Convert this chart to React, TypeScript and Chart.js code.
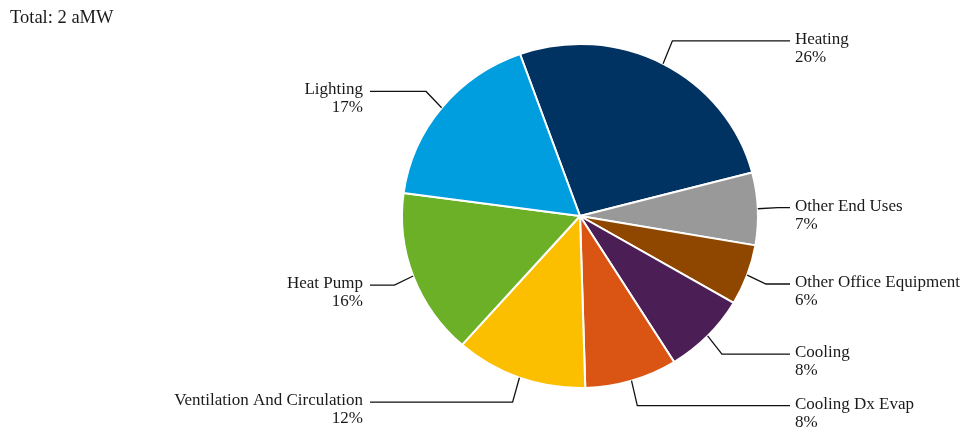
import { useEffect, useRef } from "react";
import { Chart, registerables } from "chart.js";

Chart.register(...registerables);

const categories = [
  "Heating",
  "Other End Uses",
  "Other Office Equipment",
  "Cooling",
  "Cooling Dx Evap",
  "Ventilation And Circulation",
  "Heat Pump",
  "Lighting",
];
const valuesAMW = [0.528, 0.136, 0.114, 0.154, 0.168, 0.24, 0.312, 0.348];
const sliceColors = [
  "#003361",
  "#999999",
  "#8F4700",
  "#4B1E56",
  "#DA5414",
  "#FCBF00",
  "#6CB028",
  "#009DDF",
];
const unitLabel = "aMW";

const FONT = '"Liberation Serif", "Times New Roman", serif';
const Y_SCALE = 173 / 179;

export default function App() {
  const ref = useRef<HTMLCanvasElement>(null);

  useEffect(() => {
    const canvas = ref.current;
    if (!canvas) return;
    const total = valuesAMW.reduce((a, b) => a + b, 0);

    const ellipsePlugin = {
      id: "ellipse",
      beforeDatasetsDraw(chart: any) {
        const arc = chart.getDatasetMeta(0).data[0] as any;
        if (!arc) return;
        const ctx = chart.ctx;
        ctx.save();
        ctx.translate(arc.x, arc.y);
        ctx.scale(1, Y_SCALE);
        ctx.translate(-arc.x, -arc.y);
      },
      afterDatasetsDraw(chart: any) {
        chart.ctx.restore();
      },
    };

    const labelPlugin = {
      id: "outLabels",
      afterDraw(chart: any) {
        const ctx = chart.ctx as CanvasRenderingContext2D;
        const meta = chart.getDatasetMeta(0);
        ctx.save();
        // total title
        ctx.fillStyle = "#1a1a1a";
        ctx.font = `18.5px ${FONT}`;
        ctx.textAlign = "left";
        ctx.textBaseline = "alphabetic";
        ctx.fillText(`Total: ${Math.round(total)} ${unitLabel}`, 10, 23);

        meta.data.forEach((el: any, i: number) => {
          const { x, y, startAngle, endAngle, outerRadius } = el;
          const mid = (startAngle + endAngle) / 2;
          const dx = Math.cos(mid);
          const dy = Math.sin(mid);
          const ex = x + outerRadius * dx;
          const ey = y + outerRadius * Y_SCALE * dy;
          const bx = ex + 20 * dx;
          const by = ey + 26 * dy;
          const right = dx >= 0;
          const endX = x + (right ? 210 : -210);
          ctx.strokeStyle = "#111";
          ctx.lineWidth = 1.3;
          ctx.beginPath();
          ctx.moveTo(ex, ey);
          ctx.lineTo(bx, by);
          ctx.lineTo(endX, by);
          ctx.stroke();

          const pct = Math.round((valuesAMW[i] / total) * 100);
          ctx.font = `17px ${FONT}`;
          ctx.fillStyle = "#1a1a1a";
          ctx.textAlign = right ? "left" : "right";
          const tx = right ? endX + 5 : endX - 7;
          ctx.fillText(categories[i], tx, by + 3);
          ctx.fillText(`${pct}%`, tx, by + 21);
        });
        ctx.restore();
      },
    };

    const chart = new Chart(canvas, {
      type: "pie",
      data: {
        labels: categories,
        datasets: [
          {
            data: valuesAMW,
            backgroundColor: sliceColors,
            borderColor: "#ffffff",
            borderWidth: 2,
          },
        ],
      },
      options: {
        responsive: false,
        animation: false,
        devicePixelRatio: 1,
        rotation: -19.7,
        layout: { padding: { left: 401, right: 203, top: 37, bottom: 33 } },
        plugins: {
          legend: { display: false },
          tooltip: { enabled: false },
          title: { display: false },
        },
      },
      plugins: [ellipsePlugin, labelPlugin],
    });

    return () => chart.destroy();
  }, []);

  return (
    <div style={{ position: "fixed", left: 0, top: 0, width: 962, height: 428, background: "#fff" }}>
      <canvas ref={ref} width={962} height={428} style={{ display: "block" }} />
    </div>
  );
}
